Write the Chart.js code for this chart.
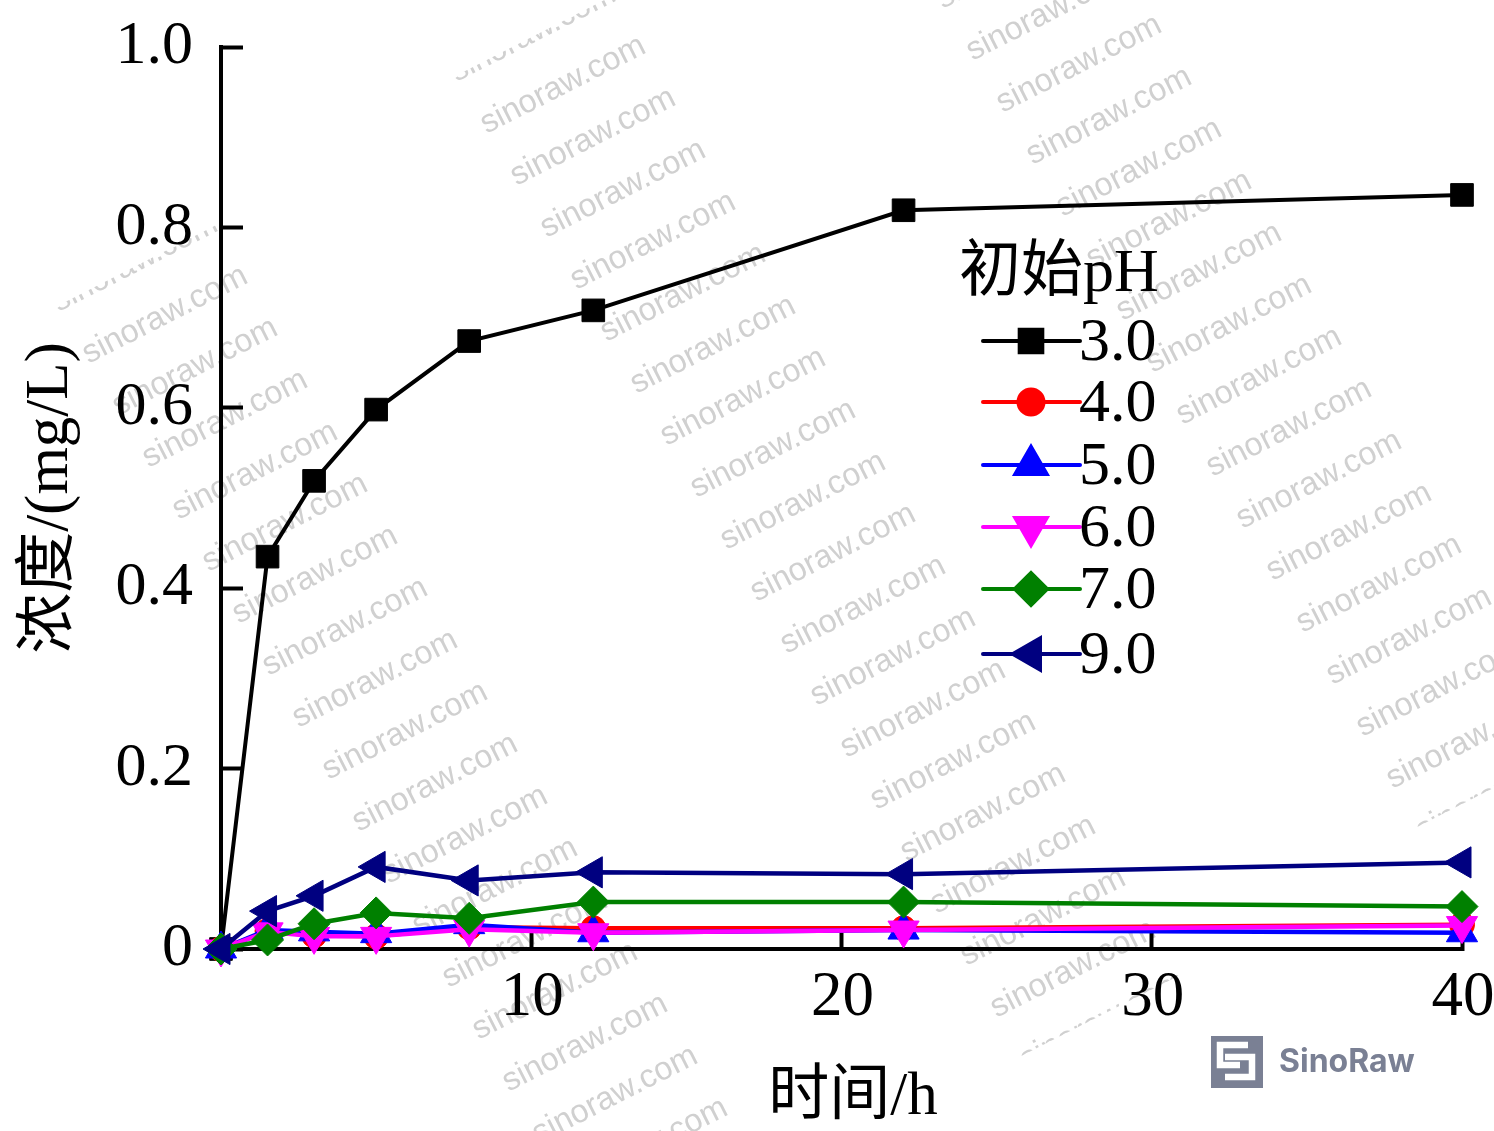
<!DOCTYPE html>
<html lang="zh">
<head>
<meta charset="utf-8">
<title>浓度-时间曲线</title>
<script src="https://cdn.jsdelivr.net/npm/chart.js@4/dist/chart.umd.js"></script>
<style>
  html, body { margin: 0; padding: 0; background: #fff; }
  #wrap { width: 1494px; height: 1131px; }
  canvas { display: block; }
</style>
</head>
<body>
<div id="wrap"><canvas id="concChart" width="1494" height="1131"></canvas></div>
<script>
// === Data ===
const hours = [0, 1.5, 3, 5, 8, 12, 22, 40];
const ph30 = [0, 0.435, 0.519, 0.598, 0.674, 0.708, 0.819, 0.836];
const ph40 = [0, 0.020, 0.015, 0.014, 0.024, 0.023, 0.023, 0.027];
const ph50 = [0, 0.021, 0.019, 0.017, 0.027, 0.018, 0.021, 0.018];
const ph60 = [0, 0.019, 0.014, 0.014, 0.022, 0.018, 0.021, 0.026];
const ph70 = [0, 0.010, 0.028, 0.040, 0.034, 0.052, 0.052, 0.047];
const ph90 = [0, 0.042, 0.059, 0.091, 0.076, 0.085, 0.083, 0.096];

const yTickLabels = ["0", "0.2", "0.4", "0.6", "0.8", "1.0"];
const xTickLabels = ["", "10", "20", "30", "40"];
const seriesNames = ["3.0", "4.0", "5.0", "6.0", "7.0", "9.0"];
const seriesColors = ["#000000", "#ff0000", "#0000ff", "#ff00ff", "#008000", "#000080"];

const SERIF = '"Liberation Serif", "Noto Sans CJK SC", serif';

// marker shape for each series
const markers = [
  { pointStyle: "rect", rotation: 0, radius: 16 },
  { pointStyle: "circle", rotation: 0, radius: 12.5 },
  { pointStyle: "triangle", rotation: 0, radius: 18 },
  { pointStyle: "triangle", rotation: 180, radius: 18 },
  { pointStyle: "rectRot", rotation: 0, radius: 16 },
  { pointStyle: "triangle", rotation: 270, radius: 18 }
];

const seriesValues = [ph30, ph40, ph50, ph60, ph70, ph90];

const datasets = seriesNames.map((name, i) => ({
  label: name,
  data: hours.map((h, k) => ({ x: h, y: seriesValues[i][k] })),
  borderColor: seriesColors[i],
  backgroundColor: seriesColors[i],
  borderWidth: i === 0 ? 4 : 4.5,
  tension: 0,
  pointStyle: markers[i].pointStyle,
  pointRotation: markers[i].rotation,
  pointRadius: markers[i].radius,
  pointBackgroundColor: seriesColors[i],
  pointBorderColor: seriesColors[i],
  pointBorderWidth: 1,
  clip: false,
  order: seriesNames.length - i // later series sit on top
}));

// === Background stamp: repeated diagonal text + logo ===
// first and last row of a chain are cut lengthwise, only a strip of the letters shows
const stampChains = [
  { x: 165, y: 315, from: -1, to: 16, cutEnd: false },
  { x: 563, y: 85, from: -1, to: 18, cutEnd: true },
  { x: 1049, y: 12, from: -1, to: 15, cutEnd: true }
];

const stampPlugin = {
  id: "stamp",
  beforeDraw(chart) {
    const ctx = chart.ctx;
    ctx.save();
    ctx.fillStyle = "#d0d0d0";
    ctx.font = '32.5px "Liberation Sans", sans-serif';
    ctx.textAlign = "center";
    ctx.textBaseline = "middle";
    stampChains.forEach(c => {
      for (let i = c.from; i <= c.to; i++) {
        ctx.save();
        ctx.translate(c.x + 30 * i, c.y + 52 * i);
        ctx.rotate(-27 * Math.PI / 180);
        if (i === c.from) {
          ctx.beginPath();
          ctx.rect(-120, 3, 240, 30);
          ctx.clip();
        } else if (c.cutEnd && i === c.to) {
          ctx.beginPath();
          ctx.rect(-120, -30, 240, 24);
          ctx.clip();
        }
        ctx.fillText("sinoraw.com", 0, 0);
        ctx.restore();
      }
    });

    // logo square with the folded S
    ctx.fillStyle = "#7a8094";
    ctx.fillRect(1211, 1036, 52, 52);
    ctx.strokeStyle = "#ffffff";
    ctx.lineWidth = 6.5;
    ctx.lineJoin = "miter";
    ctx.beginPath();
    ctx.moveTo(1248, 1045); ctx.lineTo(1220, 1045); ctx.lineTo(1220, 1065); ctx.lineTo(1240, 1065);
    ctx.moveTo(1225, 1057); ctx.lineTo(1252, 1057); ctx.lineTo(1252, 1077); ctx.lineTo(1225, 1077);
    ctx.stroke();
    ctx.font = 'bold 32px Inter, sans-serif';
    ctx.textAlign = "left";
    ctx.textBaseline = "alphabetic";
    ctx.fillText("SinoRaw", 1279, 1072);
    ctx.restore();
  }
};

// === Legend and x axis title ===
const legendRows = [341, 402, 465, 527, 589, 654];

const annotationPlugin = {
  id: "annotations",
  afterDraw(chart) {
    const ctx = chart.ctx;
    ctx.save();
    ctx.fillStyle = "#000";
    ctx.textBaseline = "alphabetic";

    ctx.textAlign = "center";
    ctx.font = "61px " + SERIF;
    ctx.fillText("时间/h", 853, 1114);

    ctx.textAlign = "left";
    ctx.font = "62px " + SERIF;
    ctx.fillText("初始pH", 959, 291);

    seriesNames.forEach((name, i) => {
      const y = legendRows[i];
      ctx.strokeStyle = seriesColors[i];
      ctx.lineWidth = 4;
      ctx.lineCap = "round";
      ctx.beginPath();
      ctx.moveTo(983, y);
      ctx.lineTo(1080, y);
      ctx.stroke();

      ctx.fillStyle = seriesColors[i];
      Chart.helpers.drawPoint(ctx, {
        pointStyle: markers[i].pointStyle,
        rotation: markers[i].rotation,
        radius: markers[i].radius,
        borderWidth: 1
      }, 1031, y);

      ctx.fillStyle = "#000";
      ctx.fillText(name, 1079, y + 19);
    });
    ctx.restore();
  }
};

// === Chart ===
new Chart(document.getElementById("concChart").getContext("2d"), {
  type: "line",
  data: { datasets },
  plugins: [stampPlugin, annotationPlugin],
  options: {
    responsive: false,
    animation: false,
    devicePixelRatio: 1,
    layout: { padding: { top: 47, right: 32, bottom: 0, left: 0 } },
    plugins: { legend: { display: false }, tooltip: { enabled: false } },
    scales: {
      x: {
        type: "linear",
        min: 0,
        max: 40,
        afterFit: scale => {
          scale.height = 182;
          scale.paddingLeft = 0;
          scale.paddingRight = 0;
        },
        grid: { drawOnChartArea: false, drawTicks: true, tickLength: -19, tickWidth: 4, tickColor: "#000" },
        border: { display: true, color: "#000", width: 4 },
        ticks: {
          stepSize: 10,
          autoSkip: false,
          maxRotation: 0,
          padding: 31,
          labelOffset: 1,
          color: "#000",
          font: { family: SERIF, size: 63 },
          callback: (value, index) => xTickLabels[index]
        }
      },
      y: {
        min: 0,
        max: 1,
        afterFit: scale => {
          scale.width = 221;
          scale.paddingTop = 0;
          scale.paddingBottom = 0;
        },
        grid: { drawOnChartArea: false, drawTicks: true, tickLength: -22, tickWidth: 4, tickColor: "#000" },
        border: { display: true, color: "#000", width: 4 },
        title: {
          display: true,
          text: "浓度/(mg/L)",
          color: "#000",
          font: { family: SERIF, size: 61 },
          padding: { top: 14, bottom: 0 }
        },
        ticks: {
          stepSize: 0.2,
          autoSkip: false,
          padding: 50,
          color: "#000",
          font: { family: SERIF, size: 62 },
          callback: (value, index) => yTickLabels[index]
        }
      }
    }
  }
});
</script>
</body>
</html>
